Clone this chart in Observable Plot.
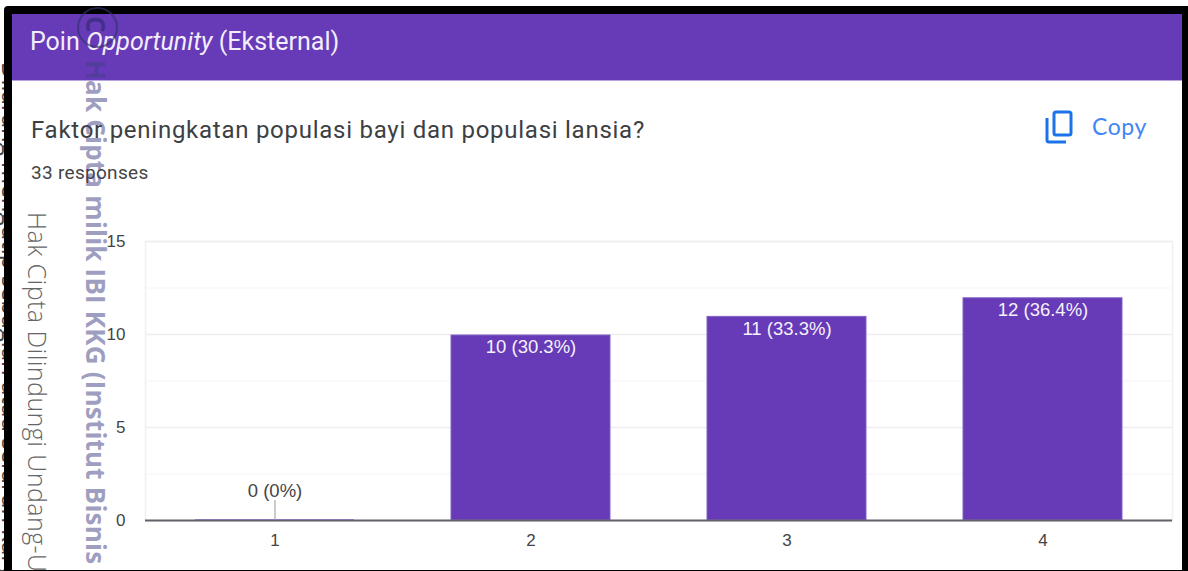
<!DOCTYPE html>
<html><head><meta charset="utf-8">
<script src="https://cdn.jsdelivr.net/npm/d3@7"></script>
<script src="https://cdn.jsdelivr.net/npm/@observablehq/plot@0.6"></script>
<style>
html,body{margin:0;padding:0;background:#fff;width:1188px;height:571px;overflow:hidden;font-family:Roboto,sans-serif}
#stage{position:relative;width:1188px;height:571px;overflow:hidden}
.abs{position:absolute;white-space:nowrap}
#frame{left:4px;top:6px;width:1170px;height:556px;border:solid #000;border-width:8px 6px 2px 8px;border-radius:4px 0 0 0;z-index:5;}
#panel{left:12px;top:14px;width:1170px;height:556px;background:#fff}
#band{left:12px;top:14px;width:1170px;height:66px;background:#673ab7;border-bottom:1px solid #b9a3df}
#title{left:30px;top:27px;font-size:25px;line-height:30px;color:#f3eefb;letter-spacing:0}
#question{left:31px;top:115px;font-size:24px;line-height:30px;color:#3c4043;letter-spacing:.74px}
#resp{left:31px;top:161px;font-size:19px;line-height:24px;color:#444;letter-spacing:.3px}
#copy{left:1092px;top:111px;font-family:Lato,sans-serif;font-size:23px;line-height:30px;color:#4285f4;letter-spacing:.6px}
#icon{left:1045px;top:110px}
#chart{left:0;top:0}
.wm1{left:0;top:0;transform-origin:0 0;transform:translate(114px,60px) rotate(90deg);font:bold 26px "Open Sans",sans-serif;letter-spacing:.2px;color:rgba(62,62,130,.5);z-index:3}
.wm2{left:0;top:0;transform-origin:0 0;transform:translate(55px,212px) rotate(90deg);font:300 25px "Open Sans",sans-serif;letter-spacing:.45px;color:#666;z-index:3}
.wm3{left:0;top:0;transform-origin:0 0;transform:translate(28px,62px) rotate(90deg);font:24px "Open Sans",sans-serif;color:#444}
#circle{left:77px;top:7px;width:37px;height:37px;border:2px solid rgba(50,50,110,.65);border-radius:50%;z-index:6}
#cmark{left:0;top:0;transform-origin:0 0;transform:translate(114px,16px) rotate(90deg);font:bold 26px "Open Sans",sans-serif;color:rgba(40,40,110,.6);z-index:6}
svg text{font-family:"Liberation Sans",Arial,sans-serif}
</style></head><body>
<div id="stage">
  <div class="abs wm3">Dilarang mengutip sebagian atau seluruh karya tulis</div>
  <div class="abs" id="panel"></div>
  <div class="abs" id="band"></div>
  <div class="abs" id="title">Poin <i>Opportunity</i> (Eksternal)</div>
  <div class="abs" id="question">Faktor peningkatan populasi bayi dan populasi lansia?</div>
  <div class="abs" id="resp">33 responses</div>
  <svg class="abs" id="icon" width="28" height="34" viewBox="0 0 28 34" fill="none" stroke="#1a73e8" stroke-width="3">
    <path d="M2 8V30Q2 32 4 32H21"/><rect x="9" y="2" width="17" height="23" rx="2"/>
  </svg>
  <div class="abs" id="copy">Copy</div>
  <div class="abs" id="chart"></div>
  <div class="abs" id="frame"></div>
  <div class="abs" id="circle"></div>
  <div class="abs" id="cmark">C</div>
  <div class="abs wm1">Hak Cipta milik IBI KKG (Institut Bisnis</div>
  <div class="abs wm2">Hak Cipta Dilindungi Undang-U</div>
</div>
<script>
const categories = ["1", "2", "3", "4"];
const counts = [0, 10, 11, 12];
const labels = ["0 (0%)", "10 (30.3%)", "11 (33.3%)", "12 (36.4%)"];
const majorTicks = [0, 5, 10, 15];
const minorTicks = [2.5, 7.5, 12.5];
const rows = categories.map((c, i) => ({c, n: counts[i], label: labels[i]}));
const purple = "#673ab7";
const chart = Plot.plot({
  width: 1188, height: 571,
  marginLeft: 145, marginRight: 16, marginTop: 241, marginBottom: 51,
  style: {background: "transparent"},
  x: {domain: categories, range: [146, 1170], paddingInner: 0.38, paddingOuter: 0.19, align: 0.5, label: null},
  y: {domain: [0, 15], label: null},
  marks: [
    Plot.frame({stroke: "#f0f0f0", strokeWidth: 1.5}),
    Plot.ruleY(minorTicks, {stroke: "#f5f5f5", strokeWidth: 1}),
    Plot.ruleY(majorTicks.slice(1), {stroke: "#eeeeee", strokeWidth: 1.5}),
    Plot.barY(rows.filter(d => d.n > 0), {x: "c", y: "n", insetTop: 1, fill: purple, stroke: "#8163c6", strokeWidth: 1}),
    Plot.ruleY([0], {stroke: "#5f6368", strokeWidth: 2}),
    Plot.barY(rows.filter(d => d.n === 0), {x: "c", y1: 0, y2: 0, insetTop: -1, fill: "#8a78b4"}),
    Plot.ruleX(rows.filter(d => d.n === 0), {x: "c", y1: 0, y2: 0, insetTop: -20, stroke: "#999", strokeWidth: 1}),
    Plot.text(rows.filter(d => d.n === 0), {x: "c", y: "n", text: "label", dy: -29, fontSize: 18.5, fill: "#444"}),
    Plot.text(rows.filter(d => d.n > 0), {x: "c", y: "n", text: "label", dy: 13, fontSize: 18.5, fill: "#f5f2fb"}),
    Plot.axisY(majorTicks, {tickSize: 0, tickPadding: 20, fontSize: 17, color: "#444", label: null}),
    Plot.axisX(categories, {tickSize: 0, tickPadding: 13, fontSize: 17, color: "#444", label: null})
  ]
});
document.getElementById("chart").append(chart);
</script>
</body></html>
